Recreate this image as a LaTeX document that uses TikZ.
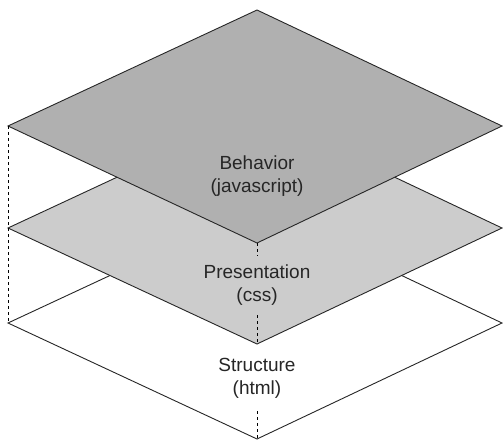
\documentclass[tikz,border=0pt]{standalone}
\usepackage{fontspec}
\setmainfont{Liberation Sans}
\begin{document}
\begin{tikzpicture}[x=1pt,y=-1pt,
  layer/.style={draw=black!85, line width=0.9pt, line join=miter},
  guide/.style={draw=black, dashed, dash pattern=on 3pt off 3pt, line width=0.9pt},
  lbl/.style={align=center, font=\fontsize{19}{23}\selectfont, text=black!85, inner sep=1pt}]
\useasboundingbox (0,0) rectangle (503,441);
% bottom layer
\coordinate (sl) at (8,323);
\coordinate (sr) at (502,323);
\coordinate (st) at (257,207);
\coordinate (sb) at (257,439);
% middle layer
\coordinate (pl) at (8,228);
\coordinate (pr) at (502,228);
\coordinate (pt) at (257,112);
\coordinate (pb) at (257,344);
% top layer
\coordinate (bl) at (8,126);
\coordinate (br) at (502,126);
\coordinate (bt) at (257,10);
\coordinate (bb) at (257,243);
\path[layer, fill=white] (sl) -- (st) -- (sr) -- (sb) -- cycle;
\path[layer, fill=black!20] (pl) -- (pt) -- (pr) -- (pb) -- cycle;
\path[layer, fill=black!31] (bl) -- (bt) -- (br) -- (bb) -- cycle;
\draw[guide] (bl) -- (sl);
\draw[guide] (bb) -- (sb);
\node[lbl, fill=black!31] (behavior) at (257,176) {Behavior\\(javascript)};
\node[lbl, fill=black!20, minimum height=58pt] (presentation) at (257,285) {Presentation\\(css)};
\node[lbl, fill=white, minimum height=66pt] (structure) at (257,378) {Structure\\(html)};
\end{tikzpicture}
\end{document}
